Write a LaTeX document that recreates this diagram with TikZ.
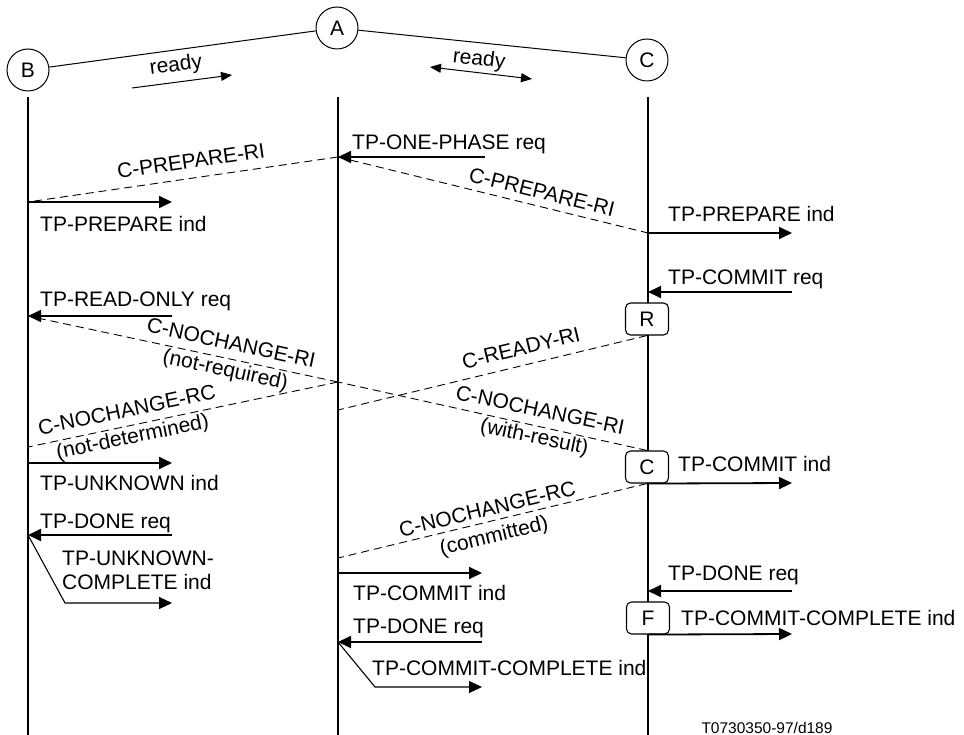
\documentclass[tikz,border=0pt]{standalone}
\usepackage{fontspec}
\setmainfont{Liberation Sans}
\usetikzlibrary{arrows.meta}
\begin{document}
\begin{tikzpicture}[x=1pt,y=-1pt,
  every node/.style={font=\fontsize{21}{27}\selectfont, inner sep=0pt},
  life/.style={line width=2pt},
  msg/.style={line width=1.8pt, -{Triangle[length=13pt,width=12pt]}},
  thinmsg/.style={line width=1.1pt, -{Triangle[length=13pt,width=12pt]}},
  readyarrow/.style={line width=1pt, -{Triangle[length=11pt,width=9pt]}},
  pdu/.style={dash pattern=on 8pt off 5pt, line width=0.9pt},
  ent/.style={circle, draw, line width=1pt, minimum size=42pt},
  statebox/.style={draw, rounded corners=5pt, fill=white, minimum width=43pt, minimum height=32pt, line width=1.1pt},
  lbl/.style={anchor=base west},
  rl/.style={align=center}
]
\useasboundingbox (0,0) rectangle (964,735);

% entities
\node[ent] (B) at (28,70) {B};
\node[ent] (A) at (337,28) {A};
\node[ent] (C) at (647,60) {C};
\draw[line width=1pt] (B) -- (A);
\draw[line width=1pt] (A) -- (C);

% ready arrows
\coordinate (r1s) at (132,88);
\coordinate (r1e) at (232,75);
\draw[readyarrow] (r1s) -- (r1e);
\node[rotate=7.4] (rdy1) at (176,66) {ready};
\coordinate (r2s) at (430,67);
\coordinate (r2e) at (532,79);
\draw[line width=1pt, {Triangle[length=11pt,width=9pt]}-{Triangle[length=11pt,width=9pt]}] (r2s) -- (r2e);
\node[rotate=-6.7] (rdy2) at (479,60) {ready};

% lifelines
\coordinate (Bt) at (28,97);  \coordinate (Bb) at (28,735);
\coordinate (At) at (338,97); \coordinate (Ab) at (338,735);
\coordinate (Ct) at (648,97); \coordinate (Cb) at (648,735);
\draw[life] (Bt) -- (Bb);
\draw[life] (At) -- (Ab);
\draw[life] (Ct) -- (Cb);

% state boxes
\node[statebox] (R) at (647,319) {R};
\node[statebox] (Cs) at (647,467) {C};
\node[statebox] (F) at (648,618) {F};

% TP-ONE-PHASE req
\coordinate (a1) at (338,157); \coordinate (a1r) at (485,157);
\draw[msg] (a1r) -- (a1);
\node[lbl] (t1) at (352,150) {TP-ONE-PHASE req};

% C-PREPARE-RI to B
\coordinate (b1) at (28,202); \coordinate (b1r) at (172,202);
\draw[pdu] (a1) -- (b1);
\node[rotate=8.3] (l1) at (191,161) {C-PREPARE-RI};
\draw[msg] (b1) -- (b1r);
\node[lbl] (t2) at (40,232) {TP-PREPARE ind};

% C-PREPARE-RI to C
\coordinate (c1) at (648,233); \coordinate (c1r) at (792,233);
\draw[pdu] (a1) -- (c1);
\node[rotate=-13.8] (l2) at (542,192) {C-PREPARE-RI};
\draw[msg] (c1) -- (c1r);
\node[lbl] (t3) at (668,222) {TP-PREPARE ind};

% TP-COMMIT req
\coordinate (c2) at (648,292); \coordinate (c2r) at (792,292);
\draw[msg] (c2r) -- (c2);
\node[lbl] (t4) at (668,285) {TP-COMMIT req};

% TP-READ-ONLY req
\coordinate (b2) at (28,316); \coordinate (b2r) at (172,316);
\draw[msg] (b2r) -- (b2);
\node[lbl] (t5) at (40,307) {TP-READ-ONLY req};

% C-NOCHANGE-RI (not-required)
\coordinate (a2) at (338,382);
\draw[pdu] (a2) -- (b2);
\node[rl, rotate=-12.2] (l3) at (228,358) {C-NOCHANGE-RI\\(not-required)};

% C-READY-RI
\coordinate (a3) at (338,410);
\draw[pdu] (R.south) -- (a3);
\node[rotate=13.6] (l4) at (521,348) {C-READY-RI};

% C-NOCHANGE-RC (not-determined)
\coordinate (b3) at (28,447);
\draw[pdu] (a2) -- (b3);
\node[rl, rotate=11.7] (l5) at (130,425) {C-NOCHANGE-RC\\(not-determined)};

% C-NOCHANGE-RI (with-result)
\draw[pdu] (Cs.north) -- (a2);
\node[rl, rotate=-12] (l6) at (537,425) {C-NOCHANGE-RI\\(with-result)};

% TP-COMMIT ind at C
\coordinate (c3r) at (792,483);
\draw[msg] (Cs.south) -- (c3r);
\node[lbl] (t6) at (678,471) {TP-COMMIT ind};

% TP-UNKNOWN ind
\coordinate (b4) at (28,463); \coordinate (b4r) at (172,463);
\draw[msg] (b4) -- (b4r);
\node[lbl] (t7) at (40,490) {TP-UNKNOWN ind};

% TP-DONE req at B
\coordinate (b5) at (28,535); \coordinate (b5r) at (172,535);
\draw[msg] (b5r) -- (b5);
\node[lbl] (t8) at (40,528) {TP-DONE req};
\coordinate (b5k) at (65,603); \coordinate (b5e) at (172,603);
\draw[thinmsg] (b5) -- (b5k) -- (b5e);
\node[lbl] (t9a) at (62,565) {TP-UNKNOWN-};
\node[lbl] (t9b) at (62,589) {COMPLETE ind};

% C-NOCHANGE-RC (committed)
\coordinate (a4) at (338,558);
\draw[pdu] (Cs.south) -- (a4);
\node[rl, rotate=13.6] (l7) at (491,524) {C-NOCHANGE-RC\\(committed)};

% TP-COMMIT ind at A
\coordinate (a5) at (338,573); \coordinate (a5r) at (482,573);
\draw[msg] (a5) -- (a5r);
\node[lbl] (t10) at (353,600) {TP-COMMIT ind};

% TP-DONE req at A
\coordinate (a6) at (338,642); \coordinate (a6r) at (482,642);
\draw[msg] (a6r) -- (a6);
\node[lbl] (t11) at (353,633) {TP-DONE req};
\coordinate (a6k) at (375,687); \coordinate (a6e) at (482,687);
\draw[thinmsg] (a6) -- (a6k) -- (a6e);
\node[lbl] (t12) at (372,675) {TP-COMMIT-COMPLETE ind};

% TP-DONE req at C
\coordinate (c4) at (648,591); \coordinate (c4r) at (792,591);
\draw[msg] (c4r) -- (c4);
\node[lbl] (t13) at (668,580) {TP-DONE req};

% TP-COMMIT-COMPLETE ind at C
\coordinate (c5r) at (792,634);
\draw[msg] (F.south) -- (c5r);
\node[lbl] (t14) at (681,625) {TP-COMMIT-COMPLETE ind};

\node[anchor=base, font=\fontsize{15.5}{18}\selectfont] (ref) at (767,733) {T0730350-97/d189};
\end{tikzpicture}
\end{document}
